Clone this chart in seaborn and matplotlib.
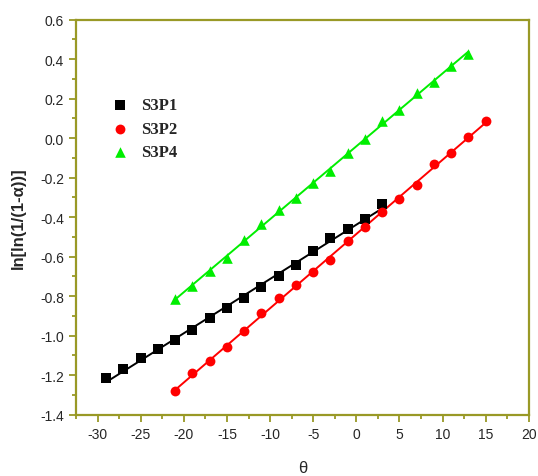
import numpy as np
import pandas as pd
import matplotlib
matplotlib.use("Agg")
import matplotlib.pyplot as plt
from matplotlib.ticker import MultipleLocator
import seaborn as sns

# datos
x_p1 = [-29, -27, -25, -23, -21, -19, -17, -15, -13, -11, -9, -7, -5, -3, -1, 1, 3]
y_p1 = [-1.216, -1.169, -1.114, -1.069, -1.022, -0.970, -0.912, -0.861, -0.811,
        -0.752, -0.696, -0.642, -0.573, -0.507, -0.460, -0.409, -0.335]

x_p2 = [-21, -19, -17, -15, -13, -11, -9, -7, -5, -3, -1, 1, 3, 5, 7, 9, 11, 13, 15]
y_p2 = [-1.280, -1.190, -1.130, -1.056, -0.975, -0.883, -0.811, -0.742, -0.676,
        -0.615, -0.519, -0.448, -0.375, -0.310, -0.237, -0.132, -0.073, 0.006, 0.087]

x_p4 = [-21, -19, -17, -15, -13, -11, -9, -7, -5, -3, -1, 1, 3, 5, 7, 9, 11, 13]
y_p4 = [-0.814, -0.750, -0.673, -0.605, -0.517, -0.432, -0.365, -0.304, -0.228,
        -0.165, -0.075, -0.004, 0.089, 0.144, 0.227, 0.286, 0.364, 0.426]

series = ["S3P1", "S3P2", "S3P4"]

sns.set_style("white")
plt.rcParams['font.family'] = ['Liberation Sans', 'DejaVu Sans']
plt.rcParams['axes.unicode_minus'] = False

olive = "#999926"
colores = {"S3P1": "black", "S3P2": "red", "S3P4": "#00ee00"}
marcadores = {"S3P1": "s", "S3P2": "o", "S3P4": "^"}
tamanos = {"S3P1": 42, "S3P2": 50, "S3P4": 58}

df = pd.concat([
    pd.DataFrame({"theta": x_p1, "y": y_p1, "serie": "S3P1"}),
    pd.DataFrame({"theta": x_p2, "y": y_p2, "serie": "S3P2"}),
    pd.DataFrame({"theta": x_p4, "y": y_p4, "serie": "S3P4"}),
])

fig = plt.figure(figsize=(5.38, 4.77), dpi=100)
ax = fig.add_axes([0.1413, 0.1285, 0.8417, 0.8281])

for s in series:
    d = df[df["serie"] == s]
    sns.regplot(data=d, x="theta", y="y", ax=ax, ci=None, color=colores[s],
                marker=marcadores[s], label=s,
                scatter_kws={"s": tamanos[s], "alpha": 1, "linewidths": 0, "zorder": 3},
                line_kws={"lw": 1.4, "zorder": 2})

ax.set_xlim(-32.5, 20)
ax.set_ylim(-1.4, 0.6)
ax.xaxis.set_major_locator(MultipleLocator(5))
ax.xaxis.set_minor_locator(MultipleLocator(2.5))
ax.yaxis.set_major_locator(MultipleLocator(0.2))
ax.yaxis.set_minor_locator(MultipleLocator(0.1))
ax.yaxis.set_major_formatter(matplotlib.ticker.FormatStrFormatter("%.1f"))

for sp in ax.spines.values():
    sp.set_color(olive)
    sp.set_linewidth(1.6)
ax.tick_params(which="both", direction="out", color=olive, width=1.3,
               bottom=True, left=True, top=False, right=False, labelsize=10)
ax.tick_params(which="major", length=5)
ax.tick_params(which="minor", length=3)

ax.set_xlabel("θ", fontsize=12, labelpad=14)
ax.set_ylabel("ln[ln(1/(1-α))]", fontsize=12, fontweight="bold", labelpad=10)

ax.legend(loc="upper left", bbox_to_anchor=(0.045, 0.82), frameon=False,
          prop={"family": "Liberation Serif", "weight": "bold", "size": 12},
          handletextpad=0.3, labelspacing=0.45, borderaxespad=0)

plt.savefig("out.png", dpi=100)
plt.close()
